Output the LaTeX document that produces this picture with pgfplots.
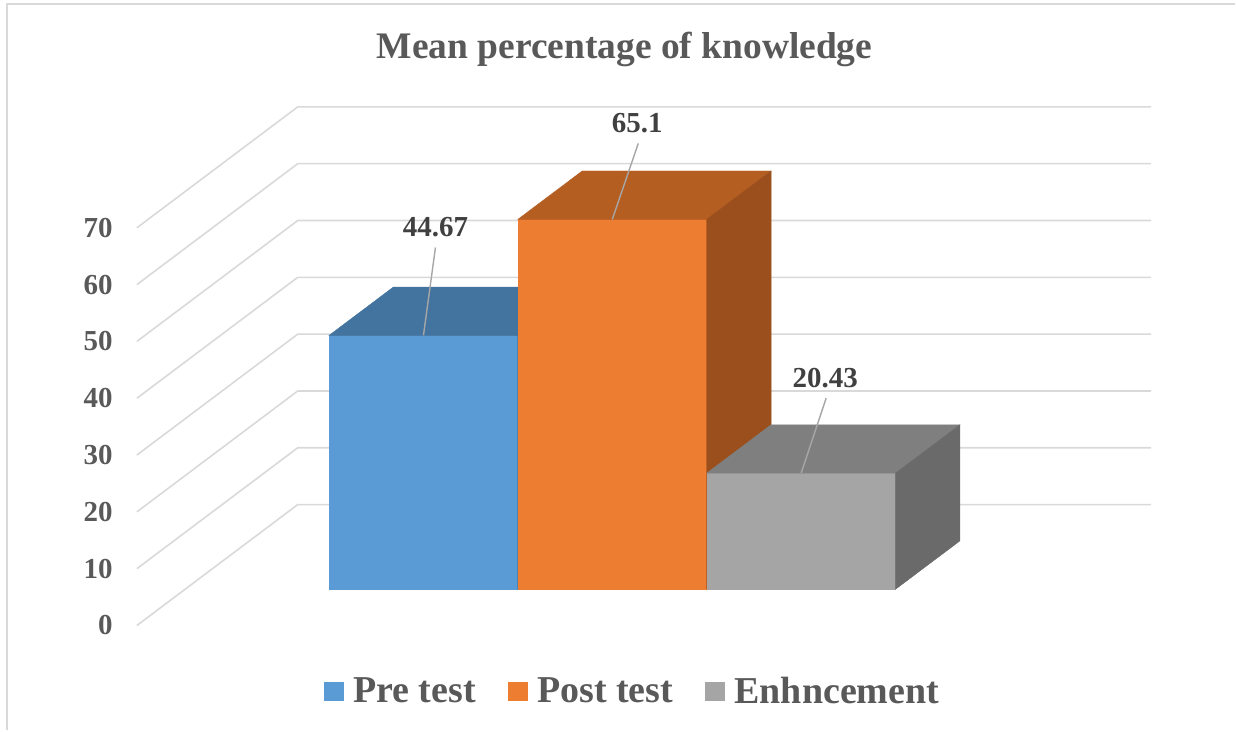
\documentclass[border=0pt]{standalone}
\usepackage{pgfplots}
\pgfplotsset{compat=1.18}
\usepackage{fontspec}
\setmainfont{Liberation Serif}
\definecolor{preF}{HTML}{5B9BD5}
\definecolor{preT}{HTML}{43739F}
\definecolor{preS}{HTML}{3A6690}
\definecolor{postF}{HTML}{ED7D31}
\definecolor{postT}{HTML}{B55E22}
\definecolor{postS}{HTML}{9A4F1C}
\definecolor{enhF}{HTML}{A5A5A5}
\definecolor{enhT}{HTML}{7F7F7F}
\definecolor{enhS}{HTML}{6A6A6A}
\definecolor{gridc}{HTML}{D9D9D9}
\definecolor{txt}{HTML}{595959}
\definecolor{lbl}{HTML}{404040}
\definecolor{leadc}{HTML}{A6A6A6}
% x1, x2, value, front, top, side
\newcommand{\cube}[6]{%
  \addplot3[fill=#4, draw=#4, line width=0.2pt] coordinates {(#1,0.3,0) (#2,0.3,0) (#2,0.3,#3) (#1,0.3,#3)} -- cycle;
  \addplot3[fill=#5, draw=#5, line width=0.2pt, forget plot] coordinates {(#1,0.3,#3) (#2,0.3,#3) (#2,0.7,#3) (#1,0.7,#3)} -- cycle;
  \addplot3[fill=#6, draw=#6, line width=0.2pt, forget plot] coordinates {(#2,0.3,0) (#2,0.7,0) (#2,0.7,#3) (#2,0.3,#3)} -- cycle;
}
\begin{document}
\begin{tikzpicture}
\path (0pt,0pt) rectangle (618pt,365.5pt);
\draw[gridc, line width=1pt] (3.5pt,0pt) -- (3.5pt,363.5pt) -- (618pt,363.5pt);
\node[anchor=base, text=txt, font=\fontsize{18.75}{22}\selectfont\bfseries] at (312.5pt,336pt) {Mean percentage of knowledge};
\begin{axis}[
  at={(68.5pt,52.5pt)}, anchor=origin,
  x={(0.5pt,0pt)}, y={(80.5pt,60.5pt)}, z={(0pt,2.843pt)},
  xmin=0, xmax=854, ymin=0, ymax=1, zmin=0, zmax=70,
  clip=false,
  axis lines=left,
  axis line style={draw=none},
  major tick length=0pt,
  xtick=\empty, ytick=\empty,
  ztick={0,10,...,70},
  /pgf/number format/assume math mode=true,
  zticklabel style={font=\fontsize{14.5}{16}\selectfont\bfseries, text=txt, anchor=east, inner sep=0pt, xshift=-12pt},
  no markers,
  legend columns=-1,
  legend style={at={(axis cs:497,0,-11.6)}, anchor=center, draw=none, fill=none,
    font=\fontsize{19}{22}\selectfont\bfseries, text=txt,
    /tikz/every odd column/.append style={column sep=3pt},
    /tikz/every even column/.append style={column sep=14pt}},
  legend image code/.code={\fill[#1] (0pt,-4.5pt) rectangle (9.5pt,4.5pt);},
]
\pgfplotsinvokeforeach{0,10,...,70}{
  \addplot3[draw=gridc, line width=0.8pt, forget plot] coordinates {(0,0,#1) (0,1,#1) (854,1,#1)};
}
\cube{144}{333}{44.67}{preF}{preT}{preS}
\cube{333}{522}{65.1}{postF}{postT}{postS}
\cube{522}{711}{20.43}{enhF}{enhT}{enhS}
\legend{Pre test, Post test, Enhncement}
\draw[leadc, line width=0.7pt] (axis cs:238.5,0.3,44.67) -- ++(6pt,44pt);
\draw[leadc, line width=0.7pt] (axis cs:427.5,0.3,65.1) -- ++(13pt,38pt);
\draw[leadc, line width=0.7pt] (axis cs:616.5,0.3,20.43) -- ++(12.5pt,37.5pt);
\node[text=lbl, font=\fontsize{14.5}{16}\selectfont\bfseries] at ([shift={(6pt,54.25pt)}]axis cs:238.5,0.3,44.67) {44.67};
\node[text=lbl, font=\fontsize{14.5}{16}\selectfont\bfseries] at ([shift={(12.5pt,48pt)}]axis cs:427.5,0.3,65.1) {65.1};
\node[text=lbl, font=\fontsize{14.5}{16}\selectfont\bfseries] at ([shift={(12pt,47.5pt)}]axis cs:616.5,0.3,20.43) {20.43};
\end{axis}
\end{tikzpicture}
\end{document}
